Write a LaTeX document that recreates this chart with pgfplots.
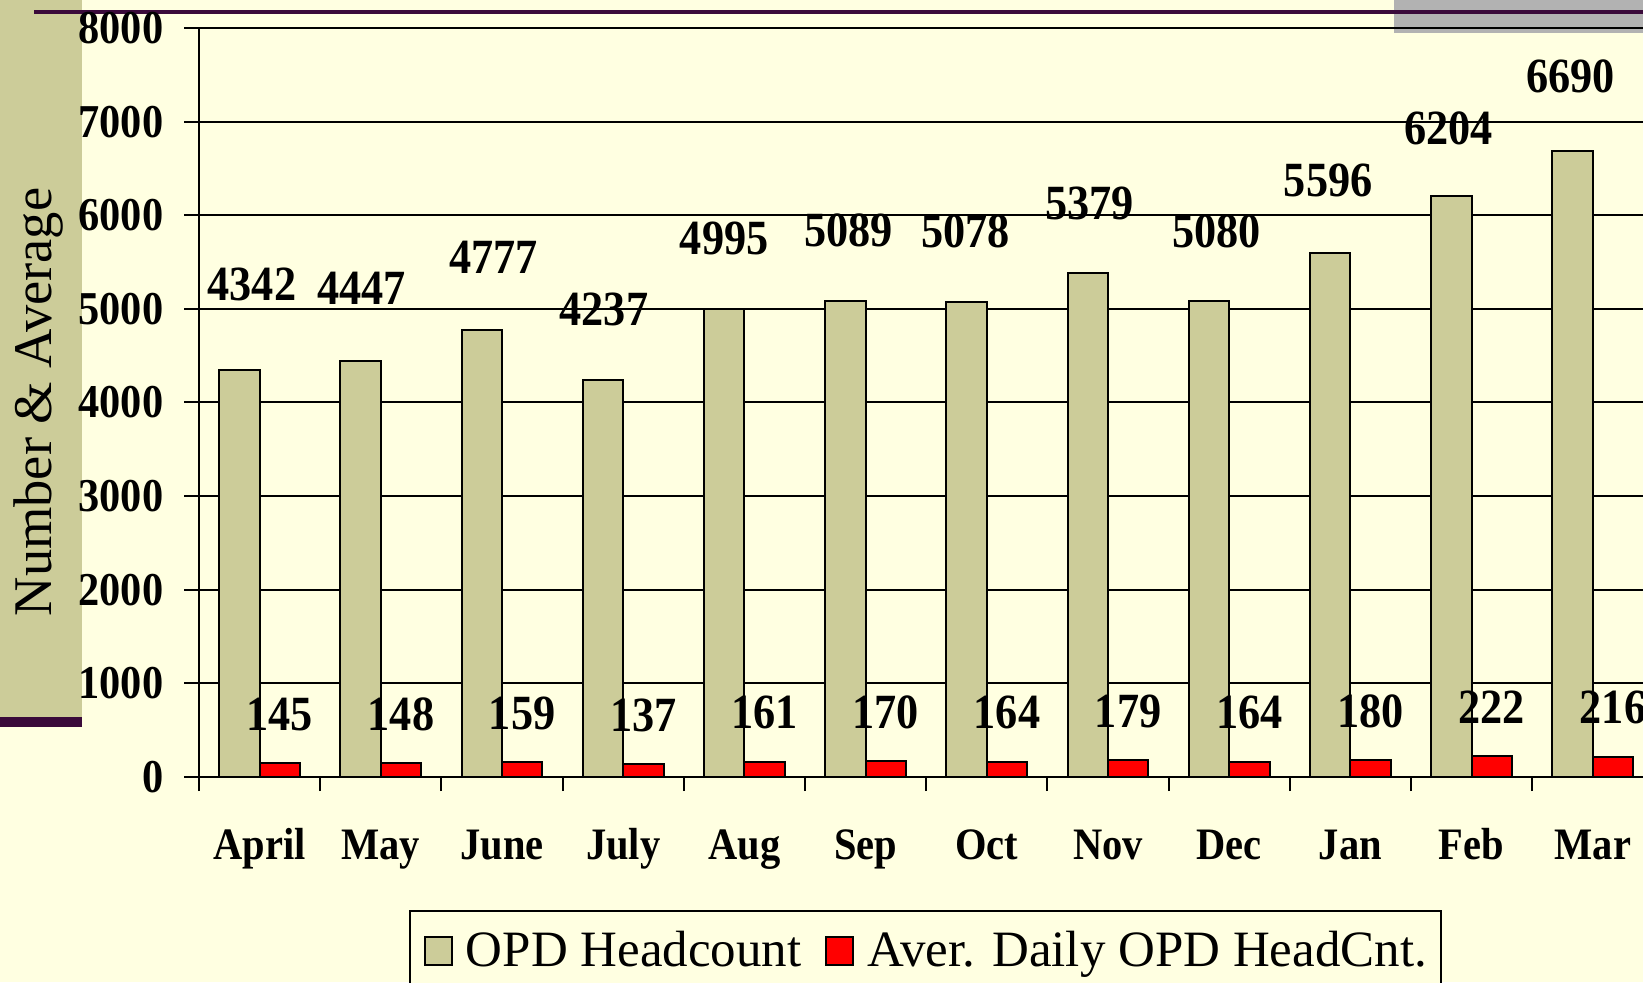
\documentclass[border=0pt]{standalone}
\usepackage{fontspec}
\setmainfont{Liberation Serif}
\newfontfamily\numfont{Liberation Serif}[FakeStretch=0.9]
\usepackage{pgfplots}
\usepackage{pgfplotstable}
\pgfplotsset{compat=1.18}
\definecolor{bgyellow}{HTML}{FFFFE1}
\definecolor{olivetan}{HTML}{CCCC99}
\definecolor{plum}{HTML}{3A0A3A}
\definecolor{greybar}{HTML}{B2B2B2}

% month index, headcount, daily average, label shifts (mm) for the headcount labels
\pgfplotstableread{
x head avg hdx hdy
0  4342 145  1.26 7.0
1  4447 148  0.10 5.6
2  4777 159  1.15 5.6
3  4237 137  0.10 5.5
4  4995 161  0.00 5.5
5  5089 170  0.30 5.4
6  5078 164 -0.10 5.4
7  5379 179  0.20 5.4
8  5080 164  0.73 5.4
9  5596 180 -0.20 5.7
10 6204 222 -0.30 5.2
11 6690 216 -0.20 5.8
}\opd

\begin{document}
\begin{tikzpicture}[x=0.1mm,y=0.1mm]
\useasboundingbox (0,0) rectangle (1643,982);
\clip (0,0) rectangle (1643,982);
\fill[bgyellow] (0,0) rectangle (1643,982);
\fill[greybar] (1394,982) rectangle (1643,949);
\fill[olivetan] (0,982) rectangle (82,265);
\fill[plum] (0,265) rectangle (82,255);
\fill[plum] (34,972) rectangle (1643,968);
\node[rotate=90, anchor=base, inner sep=0pt, font=\fontsize{15.5}{15.5}\selectfont]
  at (52,580) {Number \& Average};

\begin{axis}[
  at={(19.9mm,20.5mm)}, anchor=south west, scale only axis,
  x=12.12mm, y=0.009375mm,
  xmin=-0.5, xmax=11.414, ymin=0, ymax=8000,
  axis lines*=left,
  axis line style={line width=0.25mm, black},
  ybar=0pt, bar width=4.04mm,
  ytick={0,1000,...,8000}, scaled y ticks=false,
  ymajorgrids, grid style={black, line width=0.2mm},
  tick align=outside, major tick length=1.5mm, minor tick length=1.4mm,
  ytick style={black, line width=0.2mm},
  xtick={0,...,11},
  xticklabels={April,May,June,July,Aug,Sep,Oct,Nov,Dec,Jan,Feb,Mar},
  major x tick style={draw=none},
  minor xtick={-0.5,0.5,...,11.5},
  minor x tick style={black, line width=0.2mm},
  /pgf/number format/set thousands separator={},
  /pgf/number format/assume math mode=true,
  yticklabel style={font=\numfont\bfseries\fontsize{13.4}{13.4}\selectfont, inner sep=0pt, anchor=east, xshift=-2mm},
  xticklabel style={font=\numfont\bfseries\fontsize{12.8}{12.8}\selectfont, inner sep=0pt, anchor=base, yshift=-6.7mm},
  legend columns=2,
  legend image code/.code={\draw[#1, line width=0.2mm, draw=black] (0mm,0.15mm) rectangle (2.7mm,2.95mm);},
  legend style={at={(axis description cs:0.14543,-0.17733)}, anchor=north west,
    draw=black, line width=0.2mm, fill=bgyellow,
    font=\fontsize{14.5}{14.5}\selectfont,
    inner xsep=1.4mm, inner ysep=2mm,
    nodes={inner sep=0pt, anchor=base west},
    /tikz/every odd column/.append style={column sep=1.3mm},
    /tikz/every even column/.append style={column sep=2.4mm}},
  nodes near coords,
]
\addplot[fill=olivetan, draw=black, line width=0.2mm,
  visualization depends on={\thisrow{hdx} \as \hdx},
  visualization depends on={\thisrow{hdy} \as \hdy},
  every node near coord/.append style={font=\numfont\bfseries\fontsize{14}{14}\selectfont,
    anchor=base, inner sep=0pt, xshift=\hdx mm, yshift=\hdy mm}]
  table[x=x, y=head] {\opd};
\addplot[fill=red, draw=black, line width=0.2mm,
  every node near coord/.append style={font=\numfont\bfseries\fontsize{14}{14}\selectfont,
    anchor=base, inner sep=0pt, yshift=3.3mm}]
  table[x=x, y=avg] {\opd};
\legend{OPD Headcount, Aver. Daily OPD HeadCnt.}
\end{axis}
\end{tikzpicture}
\end{document}
